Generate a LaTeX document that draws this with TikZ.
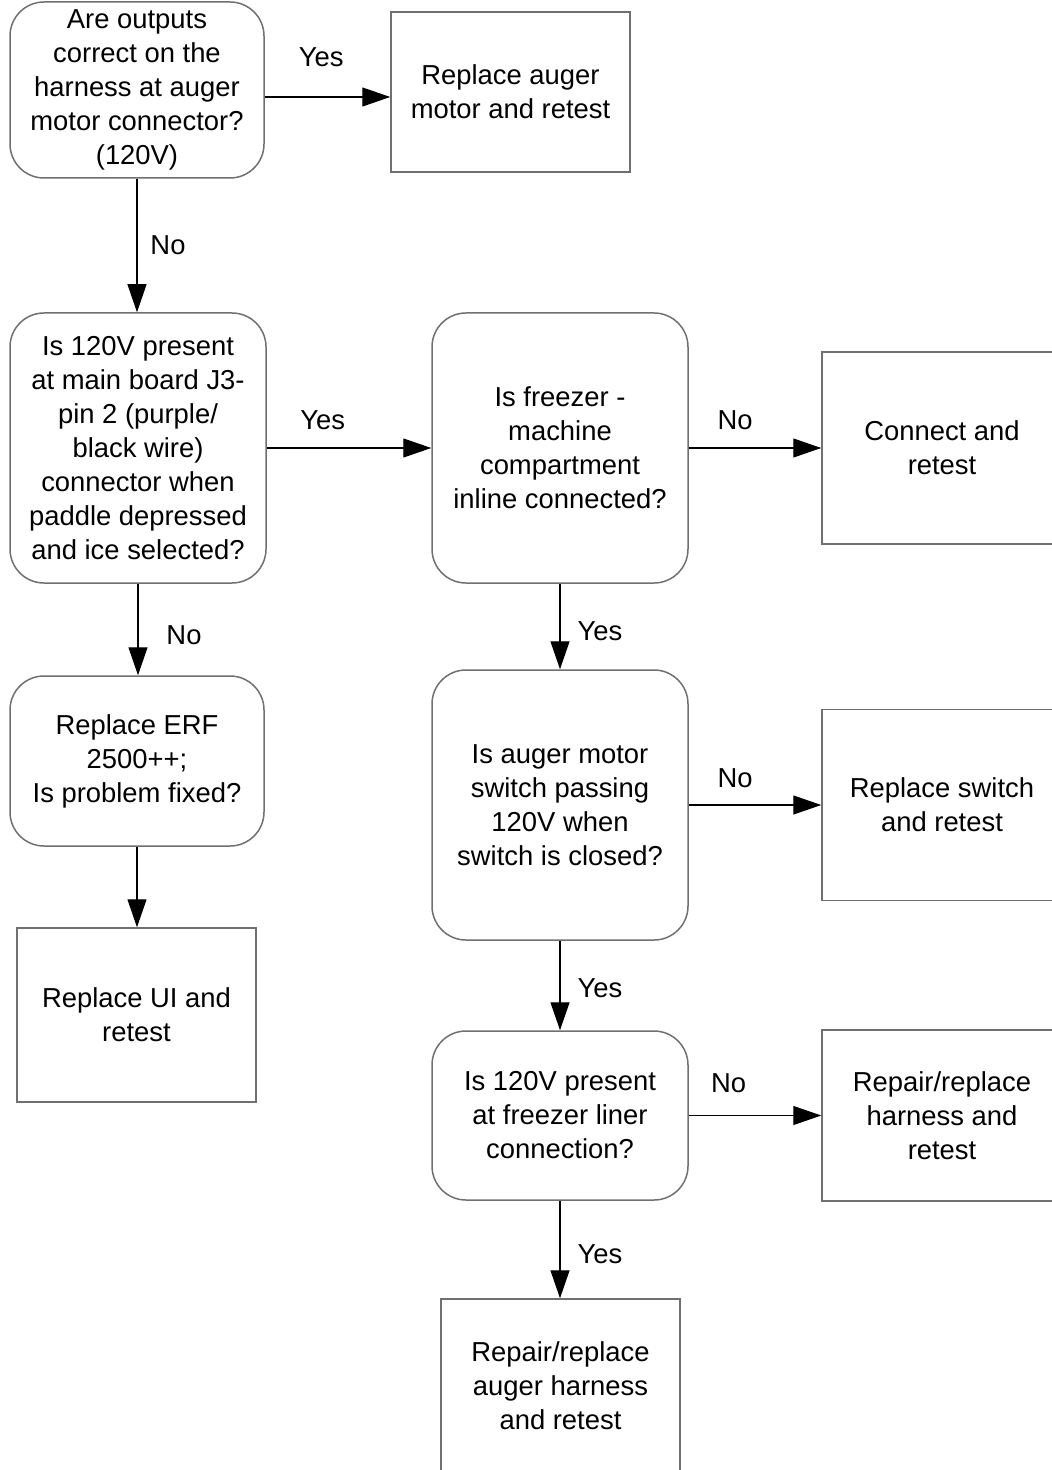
\documentclass[tikz,border=0pt]{standalone}
\usepackage{fontspec}
\setmainfont{Liberation Sans}
\usetikzlibrary{arrows.meta, positioning}
\definecolor{boxgray}{RGB}{112,112,112}

\begin{document}
\begin{tikzpicture}[x=0.5pt, y=-0.5pt, >={Triangle[length=14pt,width=9.5pt]},
  font=\fontsize{13.7}{17}\selectfont,
  box/.style={draw=boxgray, line width=0.75pt, align=center, inner sep=0pt},
  query/.style={box, rounded corners=17pt, minimum width=128pt, minimum height=135pt},
  fix/.style={box, minimum width=119.5pt},
  lbl/.style={inner sep=0pt},
  flow/.style={->, line width=0.6pt}]
  \useasboundingbox (0,0) rectangle (1052,1470);
  \clip (0,0) rectangle (1052,1470);
  % Left column
  \node[query, minimum width=127pt, minimum height=88pt] (outputs) at (137,90)
    {Are outputs\\correct on the\\harness at auger\\motor connector?\\(120V)};
  \node[fix, minimum height=80pt] (auger) at (510.5,92)
    {Replace auger\\motor and retest};
  \node[query] (mainboard) at (138,448)
    {Is 120V present\\at main board J3-\\pin 2 (purple/\\black wire)\\connector when\\paddle depressed\\and ice selected?};
  \node[query, minimum width=127pt, minimum height=85pt] (erf) at (137,761)
    {Replace ERF\\2500++;\\Is problem fixed?};
  \node[fix, minimum height=87pt] (ui) at (136.5,1015)
    {Replace UI and\\retest};
  % Right column
  \node[query] (inline) at (560,448)
    {Is freezer -\\machine\\compartment\\inline connected?};
  \node[fix, minimum width=120pt, minimum height=96pt] (connect) at (942,448)
    {Connect and\\retest};
  \node[query] (switch) at (560,805)
    {Is auger motor\\switch passing\\120V when\\switch is closed?};
  \node[fix, minimum width=120pt, minimum height=95.5pt] (repswitch) at (942,805)
    {Replace switch\\and retest};
  \node[query, minimum height=84.5pt] (liner) at (560,1115.5)
    {Is 120V present\\at freezer liner\\connection?};
  \node[fix, minimum width=120pt, minimum height=85.5pt] (harness) at (942,1115.5)
    {Repair/replace\\harness and\\retest};
  \node[fix, minimum height=87pt] (augerharness) at (560.5,1386)
    {Repair/replace\\auger harness\\and retest};
  % Connectors
  \draw[flow] ([yshift=-3.5pt]outputs.east) -- ([yshift=-3.5pt]outputs.east -| auger.west)
    node[lbl, pos=0.45, yshift=20pt] {Yes};
  \draw[flow] (outputs.south) -- (outputs.south |- mainboard.north)
    node[lbl, midway, xshift=15.5pt] {No};
  \draw[flow] (mainboard) -- (inline)
    node[lbl, pos=0.34, yshift=14pt] {Yes};
  \draw[flow] (inline) -- (connect)
    node[lbl, pos=0.35, yshift=14pt] {No};
  \draw[flow] (mainboard.south) -- (mainboard.south |- erf.north)
    node[lbl, pos=0.56, xshift=23pt] {No};
  \draw[flow] (erf.south) -- (erf.south |- ui.north);
  \draw[flow] (inline) -- (switch)
    node[lbl, pos=0.56, xshift=20pt] {Yes};
  \draw[flow] (switch) -- (repswitch)
    node[lbl, pos=0.35, yshift=13.5pt] {No};
  \draw[flow] (switch) -- (liner)
    node[lbl, pos=0.53, xshift=20pt] {Yes};
  \draw[flow] (liner) -- (harness)
    node[lbl, pos=0.3, yshift=16pt] {No};
  \draw[flow] (liner.south) -- (liner.south |- augerharness.north)
    node[lbl, pos=0.55, xshift=20pt] {Yes};
\end{tikzpicture}
\end{document}
